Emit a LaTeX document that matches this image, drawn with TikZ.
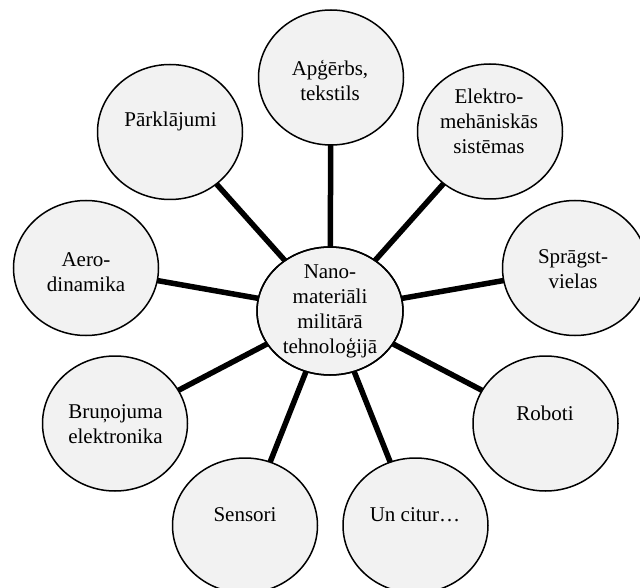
\documentclass[tikz,border=0pt]{standalone}
\usepackage{fontspec}
\setmainfont{Liberation Serif}
\usetikzlibrary{shapes.geometric,backgrounds}
\definecolor{bubble}{HTML}{F2F2F2}
\tikzset{
  bub/.style={ellipse, draw=black, line width=1.5pt, fill=bubble, inner sep=0pt,
    minimum width=145pt, minimum height=135pt},
  spoke/.style={line width=5.5pt, draw=black},
  lab/.style={align=center, font=\fontsize{21}{25}\selectfont, inner sep=0pt},
}
\begin{document}
\begin{tikzpicture}[x=1pt,y=-1pt]
\useasboundingbox (0,0) rectangle (640,588);
% outer bubbles
\node[bub] (P)  at (170,132)   {};
\node[bub] (Ap) at (331,77.5)  {};
\node[bub] (El) at (490,131.5) {};
\node[bub] (Sp) at (575,268)   {};
\node[bub] (Ae) at (86,268)    {};
\node[bub] (Br) at (115,423.5) {};
\node[bub] (Se) at (245,525.5) {};
\node[bub] (Un) at (415.5,525.5) {};
\node[bub] (Ro) at (545.5,423.5) {};
% hub
\node[bub, minimum width=146pt, minimum height=128pt] (C) at (330,311) {};
% spokes
\begin{scope}[on background layer]
  \foreach \n in {P,Ap,El,Sp,Ae,Br,Se,Un,Ro}
    \draw[spoke] (C.center) -- (\n.center);
\end{scope}
% labels
\node[lab] (tP)  at (170.5,121) {Pārklājumi};
\node[lab] (tAp) at (330,80)    {Apģērbs,\\tekstils};
\node[lab] (tEl) at (489,121)   {Elektro-\\mehāniskās\\sistēmas};
\node[lab] (tSp) at (573,269)   {Sprāgst-\\vielas};
\node[lab] (tAe) at (86,272)    {Aero-\\dinamika};
\node[lab] (tBr) at (115.5,424.5) {Bruņojuma\\elektronika};
\node[lab] (tSe) at (245,515)   {Sensori};
\node[lab] (tRo) at (545,413)   {Roboti};
\node[lab] (tUn) at (415,515)   {Un citur…};
\begin{scope}
  \clip (C.center) ellipse [x radius=72.3, y radius=63.3];
  \node[lab] (tC) at (330,311) {Nano-\\materiāli\\militārā\\tehnoloģijā};
\end{scope}
\draw[line width=1.5pt] (C.center) ellipse [x radius=73, y radius=64];
\end{tikzpicture}
\end{document}
